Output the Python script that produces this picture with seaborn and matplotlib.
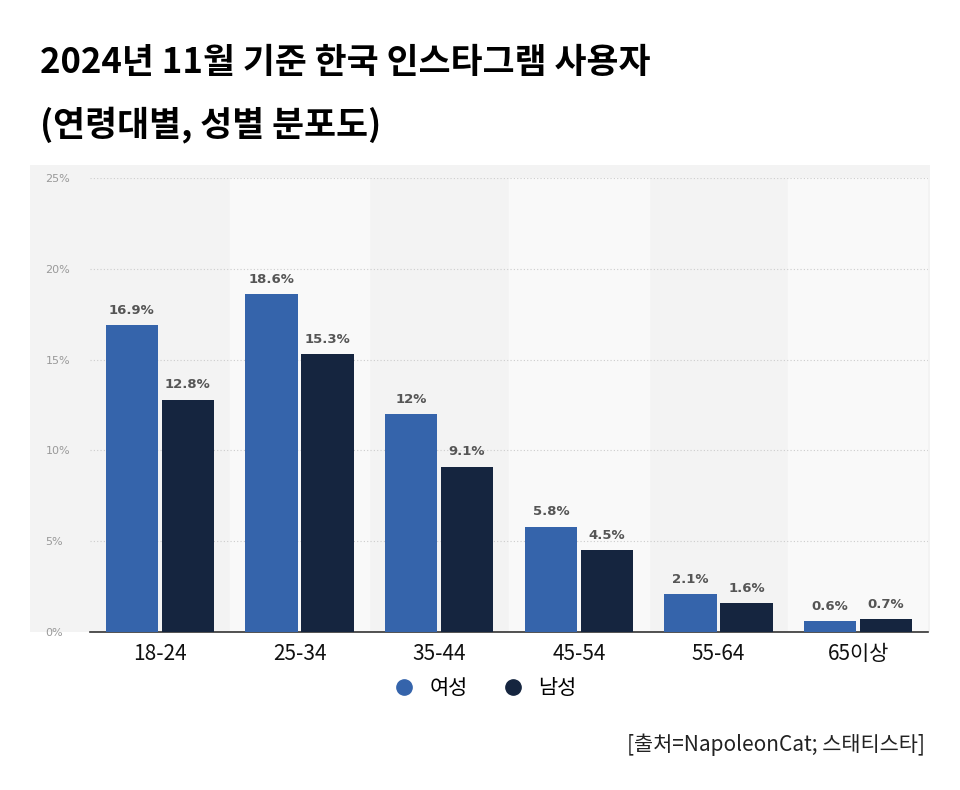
import matplotlib
matplotlib.use("Agg")
import matplotlib.pyplot as plt
import seaborn as sns
import pandas as pd
from matplotlib.lines import Line2D

plt.rcParams["font.family"] = ["Noto Sans CJK KR", "Noto Sans CJK JP", "Noto Sans CJK SC", "DejaVu Sans"]

categories = ["18-24", "25-34", "35-44", "45-54", "55-64", "65이상"]
female = [16.9, 18.6, 12.0, 5.8, 2.1, 0.6]
male = [12.8, 15.3, 9.1, 4.5, 1.6, 0.7]
female_labels = ["16.9%", "18.6%", "12%", "5.8%", "2.1%", "0.6%"]
male_labels = ["12.8%", "15.3%", "9.1%", "4.5%", "1.6%", "0.7%"]
series = ["여성", "남성"]
yticks = [0, 5, 10, 15, 20, 25]
ytick_labels = ["0%", "5%", "10%", "15%", "20%", "25%"]

df = pd.DataFrame({
    "cat": categories * 2,
    "val": female + male,
    "sex": [series[0]] * 6 + [series[1]] * 6,
})
colors = {"여성": "#3564ab", "남성": "#15253f"}

fig = plt.figure(figsize=(9.6, 7.9), dpi=100)
bg = fig.add_axes([30/960, 1-632/790, 900/960, (632-165)/790])
bg.set_facecolor("#f3f3f3")
bg.set_xticks([]); bg.set_yticks([])
for s in bg.spines.values():
    s.set_visible(False)
ax = fig.add_axes([90/960, 1-632/790, 838/960, (632-178)/790])
ax.set_facecolor("none")
sns.barplot(data=df, x="cat", y="val", hue="sex", palette=colors, ax=ax,
            width=0.8, gap=0.06, legend=False, saturation=1, zorder=3)
for i in range(6):
    if i % 2 == 1:
        ax.axvspan(i - 0.5, i + 0.5, color="#f9f9f9", zorder=0)
ax.set_xlim(-0.5, 5.5)
ax.set_ylim(0, 25)
ax.set_yticks(yticks)
ax.set_yticklabels(ytick_labels, fontsize=8, color="#999999", fontfamily="DejaVu Sans")
ax.tick_params(axis="y", length=0, pad=32)
ax.tick_params(axis="x", length=0, labelsize=15, pad=8, colors="#111111")
for lbl in ax.get_yticklabels():
    lbl.set_horizontalalignment("left")
ax.grid(axis="y", linestyle=(0, (1, 2)), color="#cccccc", zorder=1)
for s in ["top", "right", "left"]:
    ax.spines[s].set_visible(False)
ax.spines["bottom"].set_color("#333333")
ax.spines["bottom"].set_linewidth(1.2)
ax.set_xlabel("")
ax.set_ylabel("")
for cont, labs in zip(ax.containers, [female_labels, male_labels]):
    ax.bar_label(cont, labels=labs, padding=6, fontsize=9.5, fontweight="bold",
                 color="#555555", fontfamily="DejaVu Sans")

fig.text(40/960, 1-62/790, "2024년 11월 기준 한국 인스타그램 사용자", fontsize=25,
         fontweight="bold", va="center", ha="left")
fig.text(40/960, 1-125/790, "(연령대별, 성별 분포도)", fontsize=25,
         fontweight="bold", va="center", ha="left")
handles = [Line2D([], [], marker="o", linestyle="", markersize=11, color=colors[s]) for s in series]
fig.legend(handles, series, loc="center", bbox_to_anchor=(480/960, 1-688/790), ncol=2,
           frameon=False, fontsize=15, handletextpad=0.2, columnspacing=1.2)
fig.text(925/960, 1-745/790, "[출처=NapoleonCat; 스태티스타]", fontsize=15,
         ha="right", va="center", color="#222222")
fig.savefig("out.png", dpi=100)
